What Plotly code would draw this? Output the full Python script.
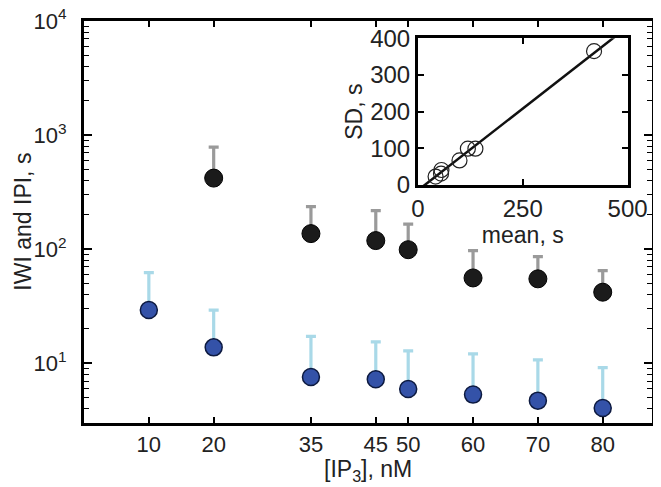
import plotly.graph_objects as go

# ---- data ----
conc = [10, 20, 35, 45, 50, 60, 70, 80]
ipi_conc = [20, 35, 45, 50, 60, 70, 80]
ipi_mean = [420, 137, 119, 99, 56, 55, 42]
ipi_sd = [365, 99, 99, 67, 41, 31, 23]
iwi_mean = [29.3, 13.8, 7.6, 7.24, 5.96, 5.32, 4.71, 4.06]
iwi_sd = [33, 15.5, 9.6, 8.2, 6.9, 6.8, 6.0, 5.1]
x_tick_vals = [10, 20, 35, 45, 50, 60, 70, 80]
y_tick_vals = [10, 100, 1000, 10000]
y_tick_text = ["10<sup>1</sup>", "10<sup>2</sup>", "10<sup>3</sup>", "10<sup>4</sup>"]
fit_slope = 0.891
fit_intercept = -14.3
fit_x = [0, 500]

minor_vals = [m * 10 ** e for e in range(0, 4) for m in range(2, 10)]

FONT = "Liberation Sans, Arial, sans-serif"

fig = go.Figure()

fig.add_trace(go.Scatter(
    x=conc, y=iwi_mean, mode="markers",
    marker=dict(size=17, color="#3452a8", line=dict(color="#0d1a40", width=1.5)),
    error_y=dict(type="data", array=iwi_sd, arrayminus=[0] * len(iwi_sd), symmetric=False,
                 color="#a9d9e8", thickness=3.2, width=5),
    showlegend=False,
))
fig.add_trace(go.Scatter(
    x=ipi_conc, y=ipi_mean, mode="markers",
    marker=dict(size=18, color="#1b1b1b", line=dict(color="#000000", width=1)),
    error_y=dict(type="data", array=ipi_sd, arrayminus=[0] * len(ipi_sd), symmetric=False,
                 color="#9a9a9a", thickness=3.2, width=5),
    showlegend=False,
))

# inset
fig.add_trace(go.Scatter(
    x=fit_x, y=[fit_slope * v + fit_intercept for v in fit_x], mode="lines",
    line=dict(color="#111111", width=2.5), xaxis="x2", yaxis="y2", showlegend=False,
))
fig.add_trace(go.Scatter(
    x=ipi_mean, y=ipi_sd, mode="markers",
    marker=dict(size=15, symbol="circle-open", color="#222222", line=dict(width=1.2)),
    xaxis="x2", yaxis="y2", showlegend=False, cliponaxis=False,
))

axis_common = dict(showline=True, linecolor="black", linewidth=3, mirror="allticks",
                   ticks="inside", tickcolor="black", tickwidth=1.5, showgrid=False,
                   zeroline=False, automargin=False, ticklabeloverflow="allow")

# the page body adds an 8 px offset; margins compensate for it
fig.update_layout(
    width=661, height=487,
    margin=dict(l=76, r=17, t=13, b=72),
    plot_bgcolor="white", paper_bgcolor="white",
    font=dict(family=FONT, color="#222"),
    xaxis=dict(range=[0, 87.6], tickvals=x_tick_vals, ticklen=6,
               tickfont=dict(family=FONT, size=22, color="#222"),
               **axis_common),
    yaxis=dict(type="log", range=[0.477, 4], tickvals=y_tick_vals, ticktext=y_tick_text,
               ticklen=8, ticklabelstandoff=10,
               tickfont=dict(family=FONT, size=22, color="#222"),
               minor=dict(tickvals=minor_vals, ticks="inside", ticklen=5, tickwidth=1.2,
                          tickcolor="black", showgrid=False),
               **axis_common),
    xaxis2=dict(domain=[0.588, 0.957], anchor="y2", range=[0, 500], tickvals=[0, 250, 500],
                ticklen=6, tickfont=dict(family=FONT, size=24, color="#222"),
                title=dict(text="mean, s", font=dict(size=23), standoff=0),
                **axis_common),
    yaxis2=dict(domain=[0.592, 0.957], anchor="x2", range=[0, 400], dtick=100,
                ticklen=6, tickfont=dict(family=FONT, size=24, color="#222"),
                title=dict(text="SD, s", font=dict(size=23), standoff=2),
                **axis_common),
    annotations=[
        dict(text="[IP<sub>3</sub>], nM", xref="paper", yref="paper", x=0.5, y=-0.117,
             xanchor="center", yanchor="middle", showarrow=False,
             font=dict(family=FONT, size=23, color="#222")),
        dict(text="IWI and IPI, s", xref="paper", yref="paper", x=-0.108, y=0.5,
             xanchor="center", yanchor="middle", textangle=-90, showarrow=False,
             font=dict(family=FONT, size=23, color="#222")),
    ],
)

fig.write_html("out.html")
